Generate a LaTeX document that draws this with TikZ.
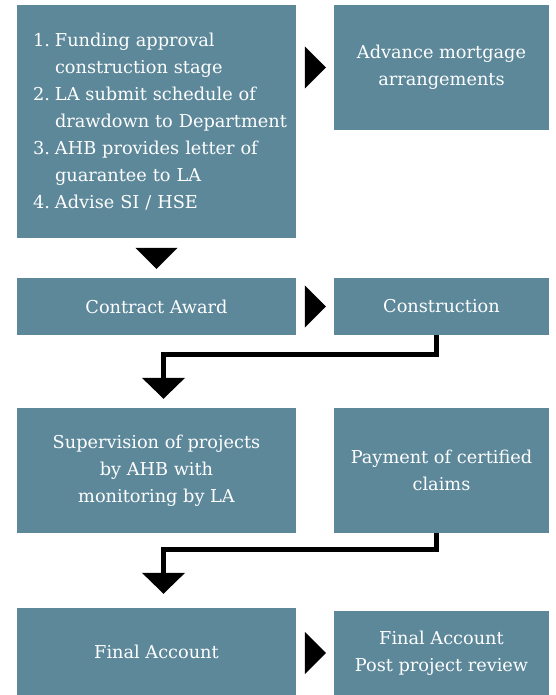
\documentclass[tikz,border=0pt]{standalone}
\usepackage{fontspec}
\setmainfont{DejaVu Serif}
\usepackage{tikz}
\usetikzlibrary{arrows.meta,shapes}
\definecolor{slate}{RGB}{92,136,154}

\tikzset{box/.style={fill=slate, text=white, inner sep=0pt, align=center, font=\fontsize{17.8}{27}\selectfont}}
\tikzset{tri/.style={-{Triangle[width=42bp,length=21bp]}, line width=0.4pt}}
\tikzset{elbow/.style={-{Triangle[width=42bp,length=21bp]}, line width=5bp}}
\newcommand{\stepline}[2]{\mbox{\makebox[22bp][l]{#1}#2}}

\begin{document}
\begin{tikzpicture}
\useasboundingbox (0,0) rectangle (556bp,-695bp);

\node (plan) at (156.5bp,-121.5bp)[box, minimum width=279bp, minimum height=233bp, text width=247bp, align=left] {\stepline{1.}{Funding approval}\\\stepline{}{construction stage}\\\stepline{2.}{LA submit schedule of}\\\stepline{}{drawdown to Department}\\\stepline{3.}{AHB provides letter of}\\\stepline{}{guarantee to LA}\\\stepline{4.}{Advise SI / HSE}};
\node (adv) at (441.5bp,-67.5bp)[box, minimum width=215bp, minimum height=125bp] {Advance mortgage\\arrangements};
\node (award) at (156.5bp,-306.5bp)[box, minimum width=279bp, minimum height=57bp] {Contract Award};
\node (constr) at (441.5bp,-306.5bp)[box, minimum width=215bp, minimum height=57bp] {Construction};
\node (superv) at (156.5bp,-470.5bp)[box, minimum width=279bp, minimum height=125bp] {Supervision of projects\\by AHB with\\monitoring by LA};
\node (payment) at (441.5bp,-470.5bp)[box, minimum width=215bp, minimum height=125bp] {Payment of certified\\claims};
\node (final) at (156.5bp,-651.5bp)[box, minimum width=279bp, minimum height=87bp] {Final Account};
\node (review) at (441.5bp,-653bp)[box, minimum width=215bp, minimum height=84bp] {Final Account\\Post project review};

\draw [tri, shorten <=9bp, shorten >=8bp] (plan.east |- adv.west) to (adv.west);
\draw [tri, shorten <=10bp, shorten >=9bp] (plan.south) to (award.north);
\draw [tri, shorten <=9bp, shorten >=8bp] (award.east) to (constr.west);
\draw [elbow, shorten >=9bp] ([xshift=-5bp]constr.south) -- ++(0,-19bp) -| ([xshift=7bp]superv.north);
\draw [elbow, shorten >=14bp] ([xshift=-5bp]payment.south) -- ++(0,-16.5bp) -| ([xshift=7bp]final.north);
\draw [tri, shorten <=9bp, shorten >=8bp] (final.east |- review.west) to (review.west);
\end{tikzpicture}
\end{document}
